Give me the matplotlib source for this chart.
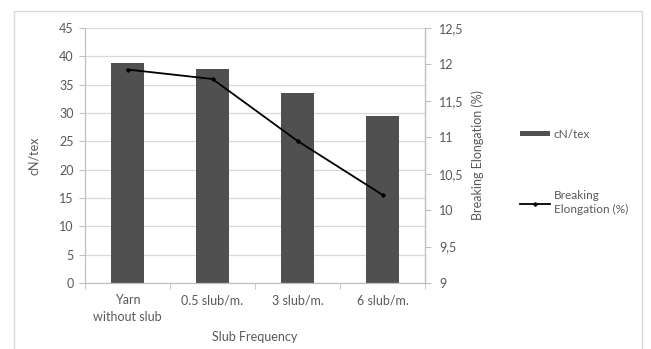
import matplotlib
matplotlib.use("Agg")
import matplotlib.pyplot as plt
from matplotlib.patches import Rectangle
import numpy as np

categories = ["Yarn\nwithout slub", "0.5 slub/m.", "3 slub/m.", "6 slub/m."]
tenacity = [38.8, 37.8, 33.5, 29.4]          # cN/tex (left axis)
elongation = [11.93, 11.8, 10.95, 10.21]     # Breaking Elongation (%) (right axis)
left_ticks = [0, 5, 10, 15, 20, 25, 30, 35, 40, 45]
right_ticks = [9, 9.5, 10, 10.5, 11, 11.5, 12, 12.5]
right_tick_labels = ["9", "9,5", "10", "10,5", "11", "11,5", "12", "12,5"]

plt.rcParams['font.family'] = ['Lato', 'DejaVu Sans']
TXT = '#595959'
GRID = '#d9d9d9'

W, H = 651, 349
fig = plt.figure(figsize=(W / 100, H / 100), dpi=100)
fig.patch.set_facecolor('white')

# outer chart border
fig.patches.append(Rectangle((14 / W, -0.05), (642 - 14) / W, 1 - 11 / H + 0.05,
                             transform=fig.transFigure, fill=False,
                             edgecolor=GRID, linewidth=1.0))

ax = fig.add_axes([85 / W, 1 - 283 / H, (425 - 85) / W, (283 - 28) / H])
x = np.arange(len(categories))
bars = ax.bar(x, tenacity, width=0.38, color='#505050', zorder=2, label='cN/tex')
ax.set_xlim(-0.5, len(categories) - 0.5)
ax.set_ylim(0, 45)
ax.set_yticks(left_ticks)
ax.grid(axis='y', color=GRID, linewidth=0.9, zorder=0)
ax.set_axisbelow(True)
ax.spines['top'].set_visible(False)
for s in ['left', 'bottom', 'right']:
    ax.spines[s].set_color('#bfbfbf')
    ax.spines[s].set_linewidth(0.9)
ax.tick_params(axis='y', colors='#bfbfbf', labelcolor=TXT, labelsize=9, length=4, pad=4)
ax.set_xticks(x)
ax.set_xticklabels(categories, color=TXT, fontsize=9, linespacing=1.5)
ax.tick_params(axis='x', which='major', length=0, pad=8)
ax.set_xticks(np.arange(-0.5, len(categories)), minor=True)
ax.tick_params(axis='x', which='minor', length=4, colors='#bfbfbf')
ax.set_ylabel('cN/tex', color=TXT, fontsize=9, labelpad=14)
ax.set_xlabel('Slub Frequency', color=TXT, fontsize=9, labelpad=6)

ax2 = ax.twinx()
line, = ax2.plot(x, elongation, color='black', linewidth=1.3, marker='D',
                 markersize=1.8, zorder=3, label='Breaking\nElongation (%)')
ax2.set_ylim(9, 12.5)
ax2.set_yticks(right_ticks)
ax2.set_yticklabels(right_tick_labels)
ax2.tick_params(axis='y', colors='#bfbfbf', labelcolor=TXT, labelsize=9, length=4, pad=6)
for s in ['top', 'left', 'bottom']:
    ax2.spines[s].set_visible(False)
ax2.spines['right'].set_color('#bfbfbf')
ax2.set_ylabel('Breaking Elongation (%)', color=TXT, fontsize=9, labelpad=6)

leg = fig.legend([bars, line], ['cN/tex', 'Breaking\nElongation (%)'],
                 loc='upper left', bbox_to_anchor=(509 / W, 1 - 118 / H),
                 frameon=False, fontsize=8.5, labelcolor=TXT,
                 handlelength=2.6, handletextpad=0.3, labelspacing=4.3,
                 handleheight=0.3)
for t in leg.get_texts():
    t.set_linespacing(1.3)

fig.savefig('out.png', dpi=100, facecolor='white')
